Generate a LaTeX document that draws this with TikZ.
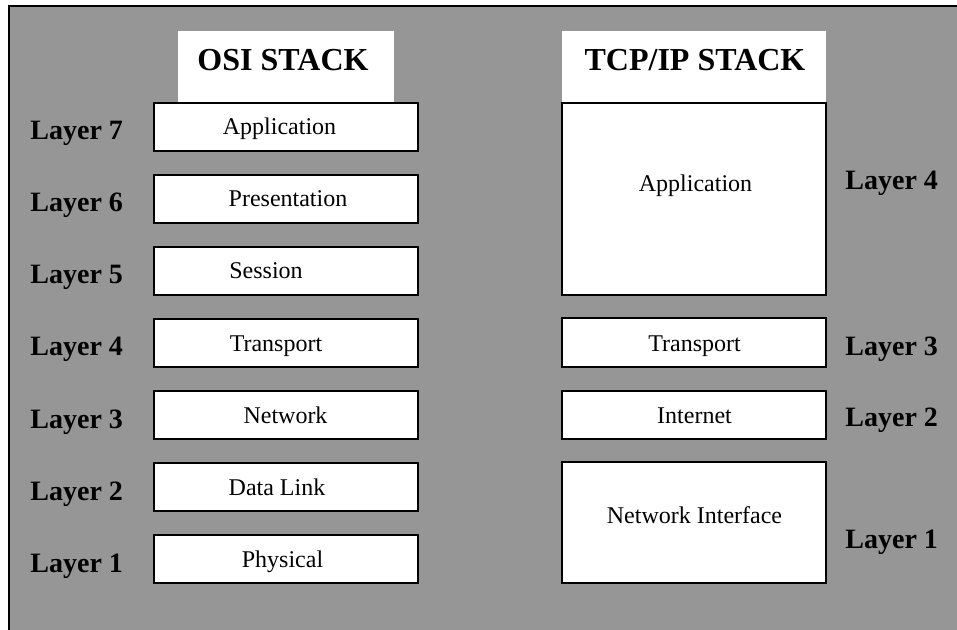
\documentclass[tikz,border=0pt]{standalone}
\usepackage{fontspec}
\setmainfont{Liberation Serif}
\definecolor{bggray}{RGB}{150,150,150}
\begin{document}
\begin{tikzpicture}[x=0.5pt,y=-0.5pt,
 box/.style={draw=black,fill=white,line width=1pt,inner sep=0pt,minimum width=132pt,minimum height=24pt},
 titlebox/.style={fill=white,inner sep=0pt},
 boxtext/.style={font=\fontsize{12}{14}\selectfont,anchor=base,inner sep=0pt},
 titletext/.style={font=\fontsize{16}{19}\selectfont\bfseries,anchor=base,inner sep=0pt},
 layertext/.style={font=\fontsize{14}{17}\selectfont\bfseries,anchor=base west,inner sep=0pt}]
\useasboundingbox (0,0) rectangle (957,630);
\fill[white] (0,0) rectangle (957,630);
\begin{scope}
\clip (0,0) rectangle (957,630);
\draw[fill=bggray,line width=1pt] (9,6) rectangle (990,660);
\end{scope}
% titles
\node[titlebox,minimum width=108pt,minimum height=36pt] (osititlebox) at (286,67) {};
\node[titletext] (osititle) at (283,71) {OSI STACK};
\node[titlebox,minimum width=132pt,minimum height=36pt] (tcptitlebox) at (694,67) {};
\node[titletext] (tcptitle) at (695,71) {TCP/IP STACK};
% OSI boxes
\node[box] (o7) at (286,127) {};
\node[box] (o6) at (286,199) {};
\node[box] (o5) at (286,271) {};
\node[box] (o4) at (286,343) {};
\node[box] (o3) at (286,415) {};
\node[box] (o2) at (286,487) {};
\node[box] (o1) at (286,559) {};
\node[boxtext] (t7) at (279.5,135) {Application};
\node[boxtext] (t6) at (288,207) {Presentation};
\node[boxtext] (t5) at (266,279) {Session};
\node[boxtext] (t4) at (276,351) {Transport};
\node[boxtext] (t3) at (285.5,423) {Network};
\node[boxtext] (t2) at (277,495) {Data Link};
\node[boxtext] (t1) at (282.5,567) {Physical};
% OSI layer labels
\node[layertext] (l7) at (30,140) {Layer 7};
\node[layertext] (l6) at (30,212) {Layer 6};
\node[layertext] (l5) at (30,284) {Layer 5};
\node[layertext] (l4) at (30,356) {Layer 4};
\node[layertext] (l3) at (30,428) {Layer 3};
\node[layertext] (l2) at (30,500) {Layer 2};
\node[layertext] (l1) at (30,572) {Layer 1};
% TCP/IP boxes
\node[box,minimum height=96pt] (p4) at (694,199) {};
\node[box] (p3) at (694,342.5) {};
\node[box] (p2) at (694,414.5) {};
\node[box,minimum height=60.5pt] (p1) at (694,522.5) {};
\node[boxtext] (q4) at (695.5,192) {Application};
\node[boxtext] (q3) at (694.5,351) {Transport};
\node[boxtext] (q2) at (694.5,423) {Internet};
\node[boxtext] (q1) at (694.5,523) {Network Interface};
% TCP/IP layer labels
\node[layertext] (r4) at (845,190) {Layer 4};
\node[layertext] (r3) at (845,356) {Layer 3};
\node[layertext] (r2) at (845,426) {Layer 2};
\node[layertext] (r1) at (845,548) {Layer 1};
\end{tikzpicture}
\end{document}
